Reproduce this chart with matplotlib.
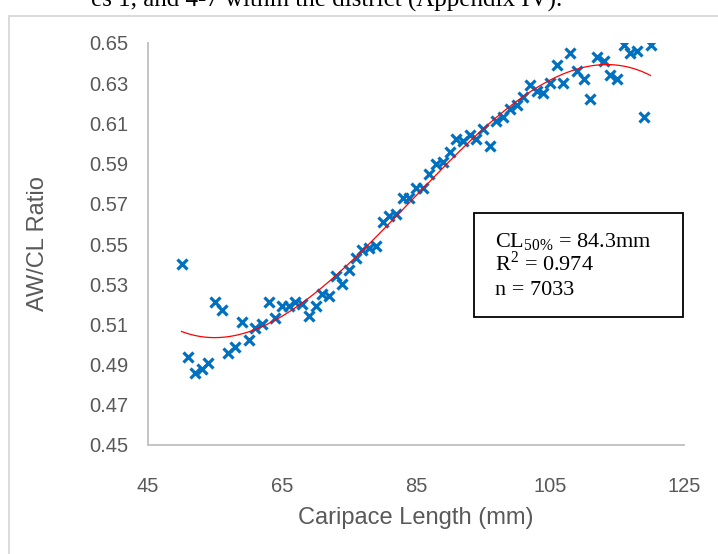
import numpy as np
import matplotlib
matplotlib.use("Agg")
import matplotlib.pyplot as plt
from matplotlib.patches import Rectangle

plt.rcParams['font.family'] = ['Liberation Sans', 'DejaVu Sans']
plt.rcParams['mathtext.fontset'] = 'custom'
plt.rcParams['mathtext.rm'] = 'Liberation Serif'

# carapace length (mm) and AW/CL ratio
cl = [50, 51, 52, 53, 54, 55, 56, 57, 58, 59,
      60, 61, 62, 63, 64, 65, 66, 67, 68, 69,
      70, 71, 72, 73, 74, 75, 76, 77, 78, 79,
      80, 81, 82, 83, 84, 85, 86, 87, 88, 89,
      90, 91, 92, 93, 94, 95, 96, 97, 98, 99,
      100, 101, 102, 103, 104, 105, 106, 107, 108, 109,
      110, 111, 112, 113, 114, 115, 116, 117, 118, 119, 120]
ratio = [0.540, 0.494, 0.486, 0.488, 0.491, 0.521, 0.517, 0.496, 0.499, 0.511,
         0.502, 0.508, 0.510, 0.521, 0.513, 0.519, 0.519, 0.521, 0.520, 0.514,
         0.519, 0.525, 0.524, 0.534, 0.530, 0.537, 0.543, 0.547, 0.548, 0.549,
         0.561, 0.564, 0.565, 0.573, 0.573, 0.578, 0.578, 0.585, 0.590, 0.591,
         0.596, 0.602, 0.601, 0.604, 0.602, 0.607, 0.599, 0.611, 0.613, 0.617,
         0.619, 0.623, 0.629, 0.626, 0.625, 0.630, 0.639, 0.630, 0.645, 0.636,
         0.632, 0.622, 0.643, 0.641, 0.634, 0.632, 0.649, 0.645, 0.646, 0.613, 0.649]

xticks = [45, 65, 85, 105, 125]
yticks = [0.45, 0.47, 0.49, 0.51, 0.53, 0.55, 0.57, 0.59, 0.61, 0.63, 0.65]
stats = [r'CL$_{\mathrm{50\%}}$ = 84.3mm', r'R$^{2}$ = 0.974', 'n = 7033']

W, H = 718, 554
fig = plt.figure(figsize=(W / 100, H / 100), dpi=100)
ax = fig.add_axes([148 / W, 1 - 445 / H, (684 - 148) / W, (445 - 43) / H])

# outer chart frame (runs off the right / bottom of the crop)
fig.patches.append(Rectangle((9 / W, -0.1), 2, 1.1 - 16 / H, transform=fig.transFigure,
                             fill=False, edgecolor='#d4d4d4', linewidth=1.2))

# document text cut off above the chart
fig.text(562 / W, 1 - 7 / H, 'es 1, and 4-7 within the district (Appendix IV).',
         family='Liberation Serif', fontsize=18, ha='right', va='baseline', color='black')

ax.plot(cl, ratio, linestyle='none', marker='x', markersize=6.5, markeredgewidth=2.3,
        color='#0070c0')

# 3rd order polynomial trendline
coef = np.polyfit(cl, ratio, 3)
xs = np.linspace(min(cl), max(cl), 300)
ax.plot(xs, np.polyval(coef, xs), color='#ff0000', linewidth=0.9)

ax.set_xlim(45, 125)
ax.set_ylim(0.45, 0.65)
ax.set_xticks(xticks)
ax.set_yticks(yticks)
ax.set_yticklabels([f'{v:.2f}' for v in yticks])
ax.tick_params(length=0, labelsize=14.5, labelcolor='#595959')
ax.tick_params(axis='y', pad=14)
ax.tick_params(axis='x', pad=23)
for s in ['top', 'right']:
    ax.spines[s].set_visible(False)
for s in ['left', 'bottom']:
    ax.spines[s].set_color('#bfbfbf')
    ax.spines[s].set_linewidth(1.3)
ax.set_xlabel('Caripace Length (mm)', fontsize=17, color='#595959', labelpad=8)
ax.set_ylabel('AW/CL Ratio', fontsize=17, color='#595959', labelpad=29)

# stats box
fig.patches.append(Rectangle((474 / W, 1 - 317 / H), (683 - 474) / W, (317 - 213) / H,
                             transform=fig.transFigure, fill=True, facecolor='white',
                             edgecolor='black', linewidth=1.3, zorder=5))
for i, s in enumerate(stats):
    fig.text(495 / W, 1 - (247 + 24 * i) / H, s, family='Liberation Serif', fontsize=16,
             ha='left', va='baseline', color='black', zorder=6)

fig.savefig('out.png', dpi=100)
